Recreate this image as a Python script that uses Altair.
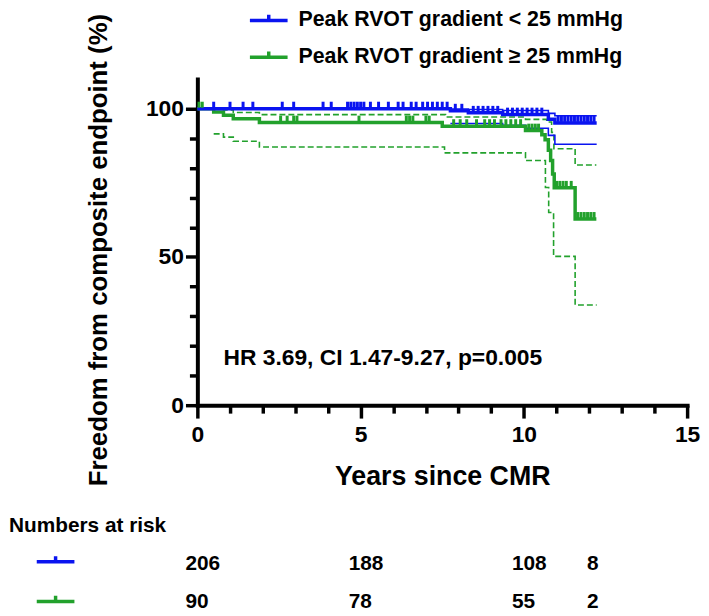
import altair as alt
import pandas as pd
import numpy as np

BLUE = "#0a14f0"
GREEN = "#22a12c"
LT = "Peak RVOT gradient < 25 mmHg"
GE = "Peak RVOT gradient ≥ 25 mmHg"
FONT = "Liberation Sans"

# Kaplan-Meier estimates
blue_t = [0, 7.75, 8.3, 9.35, 10.75, 10.95, 12.23]
blue_s = [100, 99.3, 98.6, 98.0, 96.4, 95.2, 95.2]
blue_lo_t = [7.75, 9.35, 10.05, 10.75, 10.95, 12.23]
blue_lo_s = [95.0, 94.4, 93.4, 91.0, 88.0, 88.0]
blue_hi_t = [7.75, 8.3, 9.35, 10.75, 10.95, 12.23]
blue_hi_s = [99.9, 99.7, 99.4, 98.4, 97.6, 97.6]

green_t = [0, 0.5, 0.8, 1.1, 1.9, 7.5, 10.05, 10.55, 10.65, 10.75, 10.82, 10.88, 10.93, 11.57, 12.22]
green_s = [100, 98.9, 97.8, 96.6, 95.3, 94.1, 92.6, 91.2, 89.5, 86.0, 82.5, 78.0, 73.3, 62.8, 62.8]
green_hi_t = [0.5, 0.8, 1.1, 1.9, 7.6, 10.05, 10.7, 10.85, 10.92, 11.57, 12.22]
green_hi_s = [99.9, 99.6, 98.7, 98.0, 97.2, 96.4, 95.5, 92.0, 86.5, 81.0, 81.0]
green_lo_t = [0.5, 0.8, 1.1, 1.9, 7.57, 10.05, 10.66, 10.76, 10.91, 11.57, 12.23]
green_lo_s = [91.5, 90.4, 89.0, 87.1, 85.1, 82.5, 73.4, 65.0, 50.2, 33.8, 33.8]

# censoring times
blue_cens = [0.5, 1.0, 1.4, 1.7, 2.6, 2.95, 3.85, 4.1, 4.6, 4.7, 4.8, 4.9, 5.0, 5.1,
             5.3, 5.55, 5.85, 6.15, 6.3, 6.55, 6.7, 6.9, 7.05, 7.2, 7.35, 7.5, 7.65,
             7.9, 8.1, 8.45, 8.6, 8.75, 8.9, 9.05, 9.2, 9.5, 9.65, 9.8, 9.95, 10.1,
             10.25, 10.4, 10.55, 11.05, 11.15, 11.25, 11.35, 11.45, 11.55, 11.65,
             11.75, 11.85, 11.95, 12.05, 12.15]
green_cens = [0.05, 0.15, 2.55, 2.75, 2.95, 3.05, 4.95, 6.4, 6.5, 6.6, 7.0, 7.1, 7.85,
              8.05, 8.25, 8.55, 8.8, 8.95, 9.1, 9.3, 9.45, 9.6, 9.75, 9.9, 10.15,
              10.25, 10.35, 10.45, 11.0, 11.1, 11.2, 11.3, 11.45, 11.65, 11.75,
              11.85, 11.95, 12.05, 12.15]

# numbers at risk
risk_times = [0, 5, 10, 12.3]
risk_blue = [206, 188, 108, 8]
risk_green = [90, 78, 55, 2]

annot_text = "HR 3.69, CI 1.47-9.27, p=0.005"
annot_x = [0.8]
annot_y = [16]


def step_at(ts, ss, t):
    i = int(np.searchsorted(np.array(ts), t, side="right")) - 1
    return ss[max(i, 0)]


main = pd.DataFrame({
    "t": blue_t + green_t,
    "s": blue_s + green_s,
    "group": [LT] * len(blue_t) + [GE] * len(green_t),
})
blue_ci = pd.DataFrame({
    "t": blue_lo_t + blue_hi_t,
    "s": blue_lo_s + blue_hi_s,
    "bound": ["lo"] * len(blue_lo_t) + ["hi"] * len(blue_hi_t),
})
green_ci = pd.DataFrame({
    "t": green_lo_t + green_hi_t,
    "s": green_lo_s + green_hi_s,
    "bound": ["lo"] * len(green_lo_t) + ["hi"] * len(green_hi_t),
})
cens = pd.DataFrame({
    "t": blue_cens + green_cens,
    "s": [step_at(blue_t, blue_s, t) for t in blue_cens]
         + [step_at(green_t, green_s, t) for t in green_cens],
    "group": [LT] * len(blue_cens) + [GE] * len(green_cens),
})
risk_b = pd.DataFrame({"t": risk_times, "n": [str(v) for v in risk_blue]})
risk_g = pd.DataFrame({"t": risk_times, "n": [str(v) for v in risk_green]})
annot = pd.DataFrame({"t": annot_x, "s": annot_y, "label": [annot_text]})

color_scale = alt.Scale(domain=[LT, GE], range=[BLUE, GREEN])
xs = alt.Scale(domain=[0, 15], nice=False)
ys = alt.Scale(domain=[0, 110], nice=False)

SYM = "M-1,0L1,0M0,0L0,-0.3"

x_axis = alt.Axis(
    values=list(range(0, 16)),
    labelExpr="datum.value % 5 === 0 ? datum.label : ''",
    tickSize={"condition": {"test": "datum.value % 5 === 0", "value": 13}, "value": 8},
    tickWidth=3.5, tickColor="black", domainWidth=4, domainColor="black",
    domainCap="square",
    labelFont=FONT, labelFontSize=23, labelFontWeight="bold", labelColor="black",
    labelPadding=6, labelFlush=False, labelOverlap=False, labelBound=False,
    title="Years since CMR", titleFont=FONT, titleFontSize=27, titleFontWeight="bold",
    titleColor="black", titleX=247, titleY=80, titleBaseline="alphabetic",
    titleAlign="center", grid=False,
)
y_axis = alt.Axis(
    values=list(range(0, 101, 10)),
    labelExpr="datum.value % 50 === 0 ? datum.label : ''",
    tickSize={"condition": {"test": "datum.value % 50 === 0", "value": 12}, "value": 8},
    tickWidth=3.5, tickColor="black", domainWidth=4, domainColor="black",
    domainCap="square",
    labelFont=FONT, labelFontSize=23, labelFontWeight="bold", labelColor="black",
    labelPadding=2, labelFlush=False, labelOverlap=False,
    title="Freedom from composite endpoint (%)", titleFont=FONT, titleFontSize=26,
    titleFontWeight="bold", titleColor="black", titleX=-92, titleY=172,
    titleAngle=-90, titleBaseline="alphabetic", titleAlign="center", grid=False,
)

X = alt.X("t:Q", scale=xs, axis=x_axis)
Y = alt.Y("s:Q", scale=ys, axis=y_axis)

green_ci_layer = alt.Chart(green_ci).mark_line(
    interpolate="step-after", strokeWidth=1.6, strokeDash=[6, 3], color=GREEN
).encode(x=X, y=Y, detail="bound:N")

blue_ci_layer = alt.Chart(blue_ci).mark_line(
    interpolate="step-after", strokeWidth=1.6, color=BLUE
).encode(x=X, y=Y, detail="bound:N")

main_green = alt.Chart(main).transform_filter(alt.datum.group == GE).mark_line(
    interpolate="step-after", strokeWidth=3.5
).encode(
    x=X, y=Y,
    color=alt.Color("group:N", scale=color_scale, legend=alt.Legend(
        title=None, orient="none", legendX=51, legendY=-80, direction="vertical",
        symbolType=SYM, symbolSize=1444, symbolStrokeWidth=3.5,
        labelFont=FONT, labelFontSize=21.5, labelFontWeight="bold", labelColor="black",
        labelOffset=9, rowPadding=5, padding=0, labelLimit=500,
    )),
)
main_blue = alt.Chart(main).transform_filter(alt.datum.group == LT).mark_line(
    interpolate="step-after", strokeWidth=3.5
).encode(x=X, y=Y, color=alt.Color("group:N", scale=color_scale, legend=None))

ticks = alt.Chart(cens).mark_tick(
    orient="vertical", size=6, thickness=3, yOffset=-4, opacity=1
).encode(x=X, y=Y, color=alt.Color("group:N", scale=color_scale, legend=None))

annot_layer = alt.Chart(annot).mark_text(
    align="left", baseline="middle", font=FONT, fontSize=23, fontWeight="bold",
    color="black"
).encode(x=X, y=Y, text="label:N")

risk_title = alt.Chart(pd.DataFrame({"label": ["Numbers at risk"]})).mark_text(
    align="left", baseline="middle", font=FONT, fontSize=21, fontWeight="bold",
    color="black"
).encode(x=alt.value(-190), y=alt.value(451), text="label:N")

risk_sym_b = alt.Chart(pd.DataFrame({"g": [LT]})).mark_point(
    shape=SYM, size=1444, strokeWidth=3.5, filled=False, color=BLUE, opacity=1
).encode(x=alt.value(-143), y=alt.value(487))
risk_sym_g = alt.Chart(pd.DataFrame({"g": [GE]})).mark_point(
    shape=SYM, size=1444, strokeWidth=3.5, filled=False, color=GREEN, opacity=1
).encode(x=alt.value(-143), y=alt.value(527))

risk_text_b = alt.Chart(risk_b).mark_text(
    align="left", baseline="middle", dx=-12, font=FONT, fontSize=21,
    fontWeight="bold", color="black"
).encode(x=X, y=alt.value(489), text="n:N")
risk_text_g = alt.Chart(risk_g).mark_text(
    align="left", baseline="middle", dx=-12, font=FONT, fontSize=21,
    fontWeight="bold", color="black"
).encode(x=X, y=alt.value(528), text="n:N")

chart = alt.layer(
    green_ci_layer, blue_ci_layer, main_green, main_blue, ticks, annot_layer,
    risk_title, risk_sym_b, risk_sym_g, risk_text_b, risk_text_g,
).properties(
    width=494, height=329,
    autosize=alt.AutoSizeParams(type="none"),
    padding={"left": 191, "top": 69, "right": 14, "bottom": 210},
).configure_view(stroke=None)

chart.save("out.html", embed_options={"renderer": "svg", "actions": False})
